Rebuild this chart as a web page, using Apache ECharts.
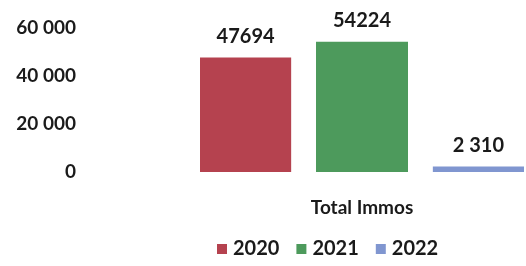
<!DOCTYPE html>
<html><head><meta charset="utf-8">
<script src="https://cdn.jsdelivr.net/npm/echarts@6/dist/echarts.min.js"></script>
<style>html,body{margin:0;padding:0;background:#fff}#c{width:526px;height:266px}</style>
</head><body><div id="c"></div>
<script>
var categories = ["Total Immos"];
var seriesNames = ["2020", "2021", "2022"];
var values2020 = [47694];
var values2021 = [54224];
var values2022 = [2310];
var valueLabels = ["47694", "54224", "2 310"];
var yTickLabels = {0: "0", 20000: "20 000", 40000: "40 000", 60000: "60 000"};
var colors = ["#b5424f", "#4d9a5c", "#8096d0"];

var allValues = [values2020, values2021, values2022];
var font = "Lato";
var chart = echarts.init(document.getElementById('c'));
chart.setOption({
  animation: false,
  textStyle: {fontFamily: font},
  legend: {
    bottom: 2, left: 212,
    itemWidth: 10, itemHeight: 10, itemGap: 17,
    icon: 'rect',
    textStyle: {fontSize: 20, fontWeight: 'bold', color: '#1a1a1a', fontFamily: font, padding: [0, 0, 0, 1]},
    data: seriesNames
  },
  grid: {left: 200, right: 2, top: 28, bottom: 94},
  xAxis: {
    type: 'category', data: categories,
    axisLine: {show: false}, axisTick: {show: false},
    axisLabel: {margin: 26, fontSize: 19, fontWeight: 'bold', color: '#1a1a1a', fontFamily: font}
  },
  yAxis: {
    type: 'value', min: 0, max: 60000, interval: 20000,
    splitLine: {show: false}, axisLine: {show: false}, axisTick: {show: false},
    axisLabel: {margin: 124, fontSize: 19, fontWeight: 'bold', color: '#1a1a1a', fontFamily: font,
      formatter: function (v) { return yTickLabels[v]; }}
  },
  series: seriesNames.map(function (name, i) {
    return {
      name: name, type: 'bar', data: allValues[i],
      barWidth: 92, barGap: '27%',
      itemStyle: {color: colors[i]},
      label: {
        show: true, position: 'top', distance: 11,
        fontSize: 20, fontWeight: 'bold', color: '#1a1a1a', fontFamily: font,
        formatter: function () { return valueLabels[i]; }
      }
    };
  })
});
</script></body></html>
